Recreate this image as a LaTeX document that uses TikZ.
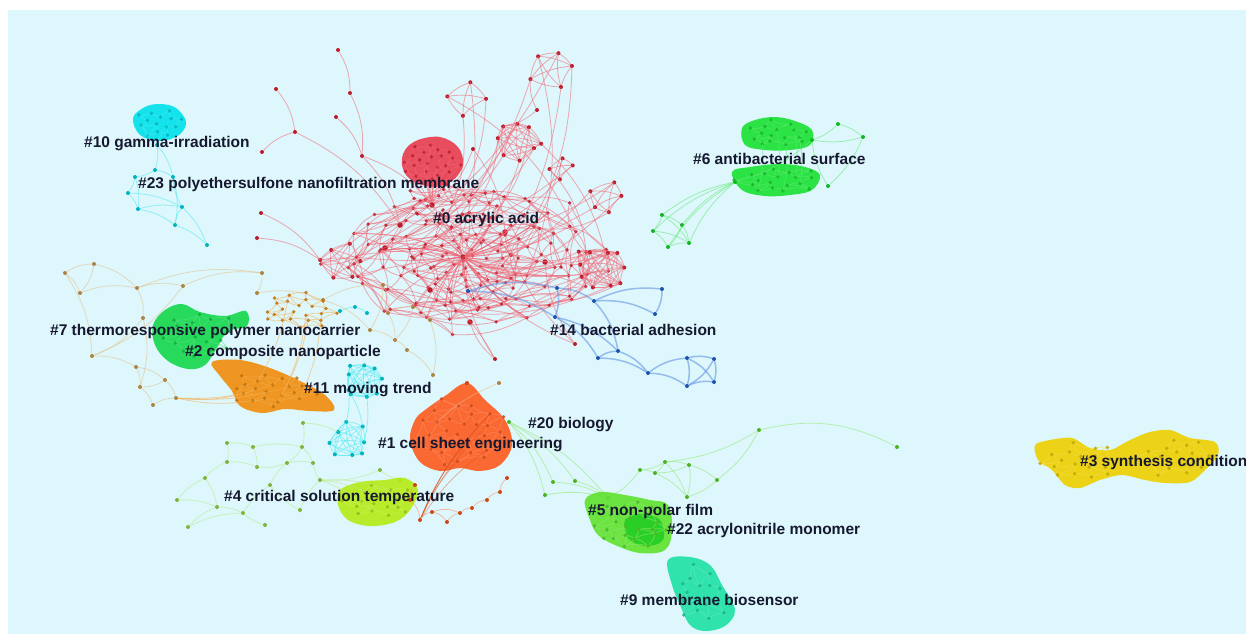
\documentclass[tikz,border=0pt]{standalone}
\usepackage{fontspec}
\setmainfont{Liberation Sans}
\usetikzlibrary{calc}

\definecolor{bgcyan}{RGB}{221,247,252}
\definecolor{tagnavy}{RGB}{22,24,48}
\definecolor{redc}{RGB}{235,35,55}
\definecolor{bluec}{RGB}{35,105,215}
\definecolor{cyanc}{RGB}{0,225,235}
\definecolor{greenc}{RGB}{25,225,50}
\definecolor{green7}{RGB}{20,215,75}
\definecolor{orangec}{RGB}{240,140,10}
\definecolor{tanc}{RGB}{215,165,85}
\definecolor{redorange}{RGB}{255,90,30}
\definecolor{limec}{RGB}{180,235,20}
\definecolor{lightlime}{RGB}{160,225,80}
\definecolor{green5}{RGB}{95,225,45}
\definecolor{green22}{RGB}{35,205,35}
\definecolor{tealc}{RGB}{30,225,165}
\definecolor{goldc}{RGB}{238,208,0}

% sunflower mesh: name, colour, cx, cy, rx, ry, n
\newcommand{\mesh}[7]{%
  \foreach \k in {1,...,#7}{%
    \pgfmathsetmacro{\myang}{137.508*\k+8*rand}%
    \pgfmathsetmacro{\myrad}{sqrt((\k-0.5)/#7)*(1+0.12*rand)}%
    \coordinate (#1-\k) at ({#3+#5*\myrad*cos(\myang)},{#4+#6*\myrad*sin(\myang)});}%
  \foreach \k in {1,...,#7}{\foreach \off in {5,8,13}{%
    \pgfmathtruncatemacro{\j}{\k+\off}%
    \ifnum\j>#7\relax\else\draw[link=#2] (#1-\k) to[bend left=15] (#1-\j);\fi}}%
  \foreach \k in {1,...,#7}{\fill[#2!80!black, opacity=.85] (#1-\k) circle[radius=1.9pt];}%
}
% small ring, all pairs linked: name, colour, cx, cy, r, n
\newcommand{\clique}[6]{%
  \foreach \k in {1,...,#6}{%
    \pgfmathsetmacro{\myang}{360*\k/#6+15*rand}%
    \pgfmathsetmacro{\myrad}{#5*(0.85+0.2*rand)}%
    \coordinate (#1-\k) at ({#3+\myrad*cos(\myang)},{#4+\myrad*sin(\myang)});}%
  \foreach \k in {1,...,#6}{\foreach \j in {\k,...,#6}{%
    \ifnum\j>\k\relax\draw[link=#2] (#1-\k) to[bend left=12] (#1-\j);\fi}}%
  \foreach \k in {1,...,#6}{\fill[#2!80!black] (#1-\k) circle[radius=2pt];}%
}

\begin{document}
\begin{tikzpicture}[x=1pt, y=-1pt,
  dot/.style={circle, fill=#1!80!black, inner sep=0pt, minimum size=4pt},
  link/.style={draw=#1!70, line width=0.8pt, opacity=0.55},
  fan/.style={draw=#1!85!black, line width=0.7pt, opacity=0.45},
  strong/.style={draw=#1!70, line width=1.5pt, opacity=0.6},
  blob/.style={fill=#1, opacity=0.9},
  tag/.style={anchor=west, inner sep=0pt, text=tagnavy, font=\bfseries\fontsize{15.5}{17}\selectfont}]
\pgfmathsetseed{42}
\fill[white] (0,0) rectangle (1246,634);
\fill[bgcyan] (8,10) rectangle (1246,634);
\useasboundingbox (0,0) rectangle (1246,634);

% red cluster #0
\mesh{red}{redc}{470}{258}{140}{72}{110}
\mesh{redn}{redc}{450}{208}{55}{22}{20}
\mesh{redm}{redc}{470}{265}{60}{45}{40}
\foreach \nm/\x/\y in {core/463/257, k1/400/225, k2/432/205, k3/385/248, k4/505/232,
    k5/470/322, k6/545/262, k7/430/290}
  \node[dot=redc, minimum size=5.5pt] (\nm) at (\x,\y) {};
\foreach \k in {1,...,70}{\pgfmathrandominteger{\ia}{1}{110}
  \draw[link=redc] (core) to[bend right=12] (red-\ia);}
\clique{r1}{redc}{550}{68}{22}{5}
\clique{r2}{redc}{467}{98}{20}{4}
\clique{r3}{redc}{520}{140}{24}{8}
\clique{r4}{redc}{560}{168}{15}{4}
\clique{r5}{redc}{605}{197}{18}{5}
\clique{r6}{redc}{600}{268}{26}{10}
\clique{r7}{redc}{340}{262}{20}{6}
\foreach \rg/\cnt in {r1/5, r2/4, r3/8, r4/4, r5/5, r6/10, r7/6}{
  \foreach \k in {1,...,\cnt}{\pgfmathrandominteger{\ia}{1}{110}
    \draw[link=redc] (\rg-\k) to[bend left=18] (red-\ia);}}
\fill[redc, opacity=.8] plot[smooth cycle, tension=.6] coordinates {(405,150) (418,140)
  (440,137) (458,147) (463,165) (452,181) (432,187) (410,179) (402,165)};
\mesh{rb}{redc}{431}{162}{28}{20}{22}
\foreach \k in {1,3,...,21} \draw[link=redc] (rb-\k) to[bend right=10] (k2);
\foreach \nm/\x/\y in {ta/338/50, tb/350/93, tc/336/117, td/362/156, te/276/89, tf/295/132,
    tg/262/152, th/261/213, ti/257/238, tk/495/359, tl/473/149, tm/537/110, tn/575/344}
  \node[dot=redc] (\nm) at (\x,\y) {};
\foreach \a/\b in {ta/tb, tb/td, tc/td, td/k1, td/k2, te/tf, tg/tf, tf/k1, th/r7-3, ti/r7-3,
    tl/k2, tl/k4, tm/r1-2, tm/r3-5, tk/k5, tk/core, tn/k6, tn/core, tn/k4, k7/tk}
  \draw[link=redc] (\a) to[bend left=15] (\b);

% blue cluster #14
\foreach \nm/\x/\y in {b1/468/291, b2/557/288, b3/594/301, b4/662/289, b5/655/314, b6/555/317,
    b7/598/358, b8/618/351, b9/648/373, b10/687/358, b11/714/359, b12/687/386, b13/714/382}
  \node[dot=bluec] (\nm) at (\x,\y) {};
\foreach \a/\b in {b1/b2, b2/b3, b3/b4, b4/b5, b3/b5, b2/b6, b6/b7, b6/b8, b7/b8, b7/b9,
    b8/b9, b9/b10, b9/b12, b10/b11, b10/b12, b10/b13, b11/b12, b11/b13, b12/b13, b3/b8, b1/b6}
  \draw[strong=bluec] (\a) to[bend left=15] (\b);

% green cluster #6
\fill[blob=greenc] plot[smooth cycle, tension=.6] coordinates {(742,128) (755,120) (775,117)
  (795,121) (812,130) (810,145) (790,150) (765,150) (745,145)};
\fill[blob=greenc] plot[smooth cycle, tension=.6] coordinates {(732,172) (750,167) (780,164)
  (805,167) (820,175) (812,190) (790,195) (765,196) (742,190)};
\mesh{gu}{greenc}{776}{134}{34}{14}{16}
\mesh{gl}{greenc}{776}{181}{42}{14}{18}
\foreach \nm/\x/\y in {ga/662/215, gb/682/225, gc/653/231, gd/668/247, ge/689/243,
    gf/735/182, gg/838/124, gh/863/137, gi/828/186, gj/812/140}
  \node[dot=greenc] (\nm) at (\x,\y) {};
\foreach \a/\b in {ga/gb, ga/gc, gb/gd, gc/gd, gd/ge, gb/ge, ga/ge, gc/ge, ga/gf, gb/gf,
    ge/gf, gd/gf, gc/gf, gg/gh, gg/gj, gh/gj, gh/gi, gi/gj, gj/gf}
  \draw[link=greenc] (\a) to[bend left=12] (\b);
\foreach \k in {2,5,...,16} \draw[link=greenc] (gu-\k) to[bend left=10] (gl-\k);

% cyan clusters #10 and #23
\fill[blob=cyanc] plot[smooth cycle, tension=.6] coordinates {(133,118) (145,107) (160,104)
  (176,108) (186,122) (179,135) (160,141) (140,135)};
\mesh{cy}{cyanc}{160}{122}{24}{15}{14}
\foreach \nm/\x/\y in {ca/128/193, cb/138/209, cc/182/207, cd/175/225, ce/207/245,
    cf/155/170, cg/173/177, ch/135/177, ci/157/145}
  \node[dot=cyanc] (\nm) at (\x,\y) {};
\foreach \a/\b in {ci/cf, ci/cg, cf/ch, cf/cg, ch/ca, ca/cb, cb/cd, cd/cc, cc/cg, ca/cc,
    cb/cc, ch/cb, cd/ce, cc/ce, cg/cd, ci/cy-3, ci/cy-9}
  \draw[link=cyanc] (\a) to[bend left=12] (\b);

% tan network round #7 and #2
\foreach \nm/\x/\y in {o1/65/273, o2/94/264, o3/80/293, o4/137/288, o5/183/286, o6/143/318,
    o7/92/356, o8/136/367, o9/165/380, o10/140/387, o11/153/405, o12/176/398, o13/262/273,
    o14/257/293, o15/323/300, o16/383/285, o17/388/313, o18/413/307, o19/430/320,
    o20/407/350, o21/433/375, o22/395/340, o23/370/330}
  \node[dot=tanc] (\nm) at (\x,\y) {};
\foreach \a/\b in {o1/o2, o1/o3, o2/o3, o2/o4, o4/o5, o3/o4, o4/o6, o6/o7, o7/o8, o8/o9,
    o8/o10, o9/o10, o10/o11, o11/o12, o9/o12, o5/o13, o13/o14, o14/o15, o15/o16, o16/o17,
    o17/o18, o18/o19, o17/o22, o22/o20, o20/o21, o19/o21, o23/o22, o16/o23, o5/o7, o6/o10,
    o1/o7, o4/o13, o15/o23, o18/o22}
  \draw[link=tanc] (\a) to[bend left=15] (\b);

% green #7
\fill[blob=green7] plot[smooth cycle, tension=.6] coordinates {(165,310) (182,304) (200,312)
  (225,316) (246,311) (247,326) (228,331) (218,346) (205,365) (188,369) (168,361) (155,345)
  (153,325)};
\mesh{gs}{green7}{200}{335}{40}{25}{20}

% orange #2
\mesh{ou}{orangec}{298}{310}{40}{18}{24}
\fill[blob=orangec] plot[smooth cycle, tension=.6] coordinates {(212,362) (240,360) (270,368)
  (300,381) (325,395) (334,410) (310,411) (285,409) (262,413) (240,406) (232,391) (220,376)};
\mesh{or}{orangec}{272}{390}{45}{18}{22}
\foreach \k in {2,5,9,14} \draw[link=orangec] (o12) to[bend right=10] (or-\k);
\foreach \k in {3,7,11,16} \draw[link=orangec] (ou-\k) to[bend left=10] (or-\k);

% cyan #11
\clique{cm}{cyanc}{362}{382}{22}{9}
\clique{cl}{cyanc}{350}{440}{20}{8}
\foreach \nm/\x/\y in {cs1/340/311, cs2/355/307, cs3/367/313}
  \node[dot=cyanc] (\nm) at (\x,\y) {};
\foreach \a/\b in {cs1/cs2, cs2/cs3, cm-3/cl-7, cm-4/cl-6, cm-2/cl-8}
  \draw[link=cyanc] (\a) to[bend left=10] (\b);

% lime #4
\foreach \nm/\x/\y in {l1/227/443, l2/253/447, l3/303/423, l4/302/447, l5/313/463, l6/287/463,
    l7/257/467, l8/227/462, l9/177/500, l10/188/527, l11/217/507, l12/243/513, l13/400/480,
    l14/270/485, l15/320/480, l16/205/478, l17/380/470, l18/265/525, l19/300/510}
  \node[dot=lightlime] (\nm) at (\x,\y) {};
\foreach \a/\b in {l1/l2, l1/l8, l2/l7, l8/l7, l3/l4, l4/l5, l4/l6, l6/l5, l6/l7, l2/l4,
    l9/l11, l11/l12, l10/l11, l12/l14, l14/l6, l16/l8, l16/l11, l15/l5, l13/l17, l17/l15,
    l18/l12, l19/l14, l19/l15, l9/l16, l10/l12, l3/cl-5}
  \draw[link=lightlime] (\a) to[bend left=12] (\b);
\fill[blob=limec] plot[smooth cycle, tension=.6] coordinates {(340,490) (360,482) (385,480)
  (405,478) (418,490) (410,510) (395,522) (370,526) (348,520) (338,505)};
\mesh{lm}{limec}{378}{502}{36}{18}{18}
\foreach \k in {2,6,10} \draw[link=lightlime] (l15) to[bend left=10] (lm-\k);

% red-orange #1
\fill[blob=redorange] plot[smooth cycle, tension=.6] coordinates {(425,410) (445,396)
  (467,383) (485,400) (505,420) (512,445) (500,465) (480,471) (460,468) (440,471) (420,462)
  (410,440) (415,420)};
\mesh{ro}{redorange}{462}{432}{46}{34}{30}
\foreach \nm/\x/\y in {e1/420/520, e2/432/512, e3/447/522, e4/460/513, e5/472/508,
    e6/487/500, e7/500/492, e8/507/478, e9/410/500, e10/415/485, e11/467/383}
  \node[dot=redorange] (\nm) at (\x,\y) {};
\foreach \nm in {e1,...,e11}{\foreach \k in {1,...,6}{\pgfmathrandominteger{\ia}{1}{30}
  \draw[fan=redorange] (\nm) to[bend left=10] (ro-\ia);}}
\foreach \a/\b in {e1/e2, e2/e3, e3/e4, e4/e5, e5/e6, e6/e7, e7/e8, e9/e10, e9/e1, e2/e4}
  \draw[link=redorange] (\a) to[bend left=20] (\b);
\node[dot=tanc] (e12) at (499,383) {};
\draw[link=tanc] (e12) to[bend right=10] (ro-12);

% green #5 and #22
\foreach \nm/\x/\y in {n1/665/462, n2/689/465, n3/655/473, n4/717/480, n5/687/497,
    n6/553/482, n7/575/481, n8/545/495, n9/759/430, n10/897/447, n11/509/422, n12/640/470,
    n13/608/498}
  \node[dot=green5] (\nm) at (\x,\y) {};
\foreach \a/\b in {n1/n2, n1/n3, n2/n3, n1/n5, n2/n5, n3/n5, n2/n4, n4/n5, n1/n12, n12/n3,
    n9/n4, n9/n1, n11/n6, n11/n7, n11/n8, n6/n13, n7/n13, n8/n13, n11/n13, n12/n13}
  \draw[link=green5] (\a) to[bend left=12] (\b);
\draw[link=green5] (n9) to[bend left=20] (n10);
\fill[blob=green5] plot[smooth cycle, tension=.6] coordinates {(585,500) (600,492) (625,495)
  (650,500) (668,505) (672,530) (665,550) (640,553) (615,545) (598,535) (590,520)};
\fill[blob=green22] plot[smooth cycle, tension=.6] coordinates {(625,520) (640,514) (660,520)
  (663,540) (645,546) (628,538)};
\mesh{gn}{green5}{630}{524}{40}{24}{24}

% teal #9
\fill[blob=tealc] plot[smooth cycle, tension=.6] coordinates {(668,560) (690,557) (710,565)
  (722,585) (735,610) (725,626) (705,631) (690,625) (680,605) (672,585)};
\mesh{tm}{tealc}{700}{595}{26}{30}{16}

% yellow #3
\fill[blob=goldc] plot[smooth cycle, tension=.5] coordinates {(1035,445) (1050,440) (1072,438)
  (1090,448) (1110,450) (1130,440) (1150,432) (1170,430) (1190,438) (1215,442) (1218,455)
  (1205,470) (1190,482) (1165,483) (1145,480) (1122,475) (1100,480) (1080,488) (1065,485)
  (1052,470) (1038,460)};
\mesh{yl}{goldc}{1080}{462}{40}{20}{18}
\mesh{yr}{goldc}{1175}{458}{38}{20}{18}

% cluster tags
\node[tag] (tag10) at (84,144) {\#10 gamma-irradiation};
\node[tag] (tag23) at (138,184) {\#23 polyethersulfone nanofiltration membrane};
\node[tag] (tag0) at (433,219) {\#0 acrylic acid};
\node[tag] (tag6) at (693,159) {\#6 antibacterial surface};
\node[tag] (tag7) at (50,331) {\#7 thermoresponsive polymer nanocarrier};
\node[tag] (tag2) at (185,352) {\#2 composite nanoparticle};
\node[tag] (tag14) at (550,330) {\#14 bacterial adhesion};
\node[tag] (tag11) at (304,390) {\#11 moving trend};
\node[tag] (tag20) at (528,425) {\#20 biology};
\node[tag] (tag1) at (378,445) {\#1 cell sheet engineering};
\node[tag] (tag4) at (224,497) {\#4 critical solution temperature};
\node[tag] (tag5) at (588,511) {\#5 non-polar film};
\node[tag] (tag22) at (667,530) {\#22 acrylonitrile monomer};
\node[tag] (tag9) at (620,600) {\#9 membrane biosensor};
\node[tag] (tag3) at (1080,462) {\#3 synthesis condition};
\end{tikzpicture}
\end{document}
